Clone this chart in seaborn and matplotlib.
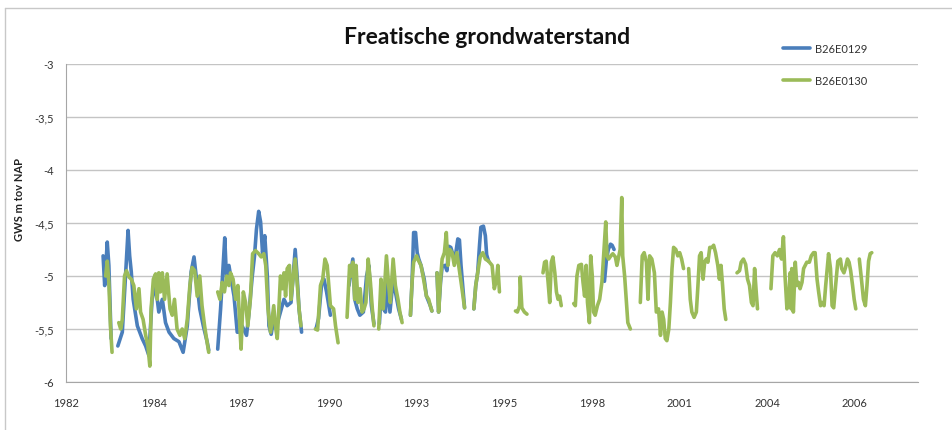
import pandas as pd
import seaborn as sns
import matplotlib.pyplot as plt
from matplotlib.lines import Line2D

nan = float("nan")

# B26E0129 - jaar (decimaal) en GWS in m t.o.v. NAP, nan = geen meting
b_jaar = [1983.32, 1983.37, 1983.45, 1983.50, 1983.57, nan,
          1983.78, 1983.92, 1984.02, 1984.10, 1984.15, 1984.20, 1984.26, 1984.39, 1984.54, 1984.65,
          1984.75, 1984.85, 1984.96, 1985.06, 1985.17, 1985.27, 1985.38, 1985.53, 1985.69, 1985.82,
          1985.95, 1986.07, 1986.16, 1986.26, 1986.34, 1986.45, 1986.57, 1986.62, nan,
          1986.90, 1986.99, 1987.07, 1987.12, 1987.18, 1987.25, 1987.32, 1987.41, 1987.51, 1987.56,
          1987.66, 1987.80, 1987.87, 1987.98, 1988.05, 1988.11, 1988.18, 1988.24, 1988.30, 1988.37,
          1988.45, 1988.50, 1988.57, 1988.65, 1988.76, 1988.86, 1988.97, 1989.07, 1989.19, 1989.25,
          1989.32, 1989.38, 1989.44, 1989.52, nan,
          1989.97, 1990.05, 1990.15, 1990.22, 1990.30, 1990.42, nan,
          1991.00, 1991.12, 1991.18, 1991.26, 1991.34, 1991.45, 1991.55, 1991.62, 1991.70, 1991.78, nan,
          1991.95, 1992.02, 1992.08, 1992.14, 1992.20, 1992.28, 1992.38, 1992.45, 1992.55, 1992.64, nan,
          1992.92, 1992.97, 1993.02, 1993.08, 1993.13, 1993.18, 1993.25, 1993.35, 1993.42, 1993.54, 1993.59, nan,
          1993.75, 1993.80, 1993.86, 1993.91, 1994.00, 1994.06, 1994.12, 1994.18, 1994.25, 1994.32,
          1994.40, 1994.45, 1994.50, 1994.56, 1994.61, nan,
          1994.90, 1994.96, 1995.02, 1995.08, 1995.12, 1995.20, 1995.26, 1995.30, 1995.36, nan,
          1998.98, 1999.04, 1999.10, 1999.17, 1999.22, 1999.28]
b_gws = [-4.81, -5.09, -4.68, -4.90, -5.59, nan,
         -5.66, -5.53, -5.00, -4.57, -4.81, -4.96, -5.22, -5.47, -5.59, -5.66,
         -5.75, -5.22, -5.09, -5.34, -5.22, -5.44, -5.53, -5.59, -5.62, -5.72,
         -5.47, -4.96, -4.82, -5.09, -5.31, -5.47, -5.62, -5.70, nan,
         -5.69, -5.31, -4.90, -4.64, -5.06, -4.90, -5.03, -5.19, -5.53, -5.53,
         -5.47, -5.56, -5.37, -5.00, -4.81, -4.56, -4.39, -4.49, -4.78, -4.62,
         -5.00, -5.47, -5.55, -5.40, -5.45, -5.34, -5.22, -5.28, -5.25, -5.03,
         -4.75, -5.00, -5.31, -5.53, nan,
         -5.50, -5.40, -5.06, -5.03, -5.15, -5.37, nan,
         -5.09, -4.84, -5.22, -5.31, -5.37, -5.34, -5.00, -4.90, -5.28, -5.45, nan,
         -5.45, -5.09, -5.31, -5.34, -5.06, -5.34, -5.03, -5.15, -5.31, -5.41, nan,
         -5.37, -5.06, -4.59, -4.59, -4.78, -4.84, -4.90, -5.03, -5.19, -5.28, -5.33, nan,
         -4.97, -5.34, -5.06, -4.91, -4.90, -4.95, -4.72, -4.73, -4.80, -4.82,
         -4.65, -4.66, -4.90, -5.12, -5.30, nan,
         -5.31, -5.09, -4.97, -4.70, -4.54, -4.53, -4.62, -4.80, -4.86, nan,
         -5.05, -4.85, -4.75, -4.70, -4.71, -4.75]

# B26E0130
g_jaar = [1983.40, 1983.45, 1983.50, 1983.55, 1983.60, nan,
          1983.81, 1983.87, 1983.92, 1983.99, 1984.05, 1984.13, 1984.20, 1984.28, 1984.36, 1984.44,
          1984.49, 1984.57, 1984.65, 1984.72, 1984.78, 1984.82, 1984.89, 1984.96, 1985.01, 1985.06,
          1985.11, 1985.17, 1985.24, 1985.32, 1985.41, 1985.48, 1985.55, 1985.63, 1985.72, 1985.79,
          1985.87, 1985.95, 1986.03, 1986.10, 1986.18, 1986.26, 1986.34, 1986.41, 1986.49, 1986.55,
          1986.62, nan,
          1986.90, 1986.97, 1987.04, 1987.11, 1987.18, 1987.25, 1987.30, 1987.38, 1987.46, 1987.53,
          1987.59, 1987.63, 1987.70, 1987.77, 1987.84, 1987.92, 1987.99, 1988.08, 1988.18, 1988.26,
          1988.34, 1988.40, 1988.47, 1988.55, 1988.65, 1988.70, 1988.76, 1988.81, 1988.86, 1988.92,
          1988.97, 1989.02, 1989.07, 1989.14, 1989.19, 1989.25, 1989.32, 1989.38, 1989.44, 1989.50, nan,
          1989.95, 1990.02, 1990.11, 1990.18, 1990.25, 1990.32, 1990.37, 1990.42, 1990.52, 1990.58, 1990.66, nan,
          1990.94, 1991.02, 1991.07, 1991.12, 1991.18, 1991.22, 1991.28, 1991.35, 1991.41, 1991.47,
          1991.53, 1991.60, 1991.67, 1991.73, 1991.78, nan,
          1991.93, 1992.00, 1992.07, 1992.17, 1992.24, 1992.29, 1992.38, 1992.45, 1992.53, 1992.59, 1992.66, nan,
          1992.92, 1992.97, 1993.02, 1993.11, 1993.18, 1993.25, 1993.33, 1993.42, 1993.49, 1993.54, 1993.59, nan,
          1993.75, 1993.80, 1993.86, 1993.91, 1993.98, 1994.04, 1994.09, 1994.15, 1994.22, 1994.29,
          1994.37, 1994.46, 1994.53, 1994.61, nan,
          1994.90, 1994.96, 1995.02, 1995.10, 1995.18, 1995.26, 1995.36, 1995.47, 1995.54, 1995.61,
          1995.65, 1995.70, nan,
          1996.20, 1996.26, 1996.33, 1996.35, 1996.40, 1996.48, 1996.56, nan,
          1997.06, 1997.11, 1997.16, 1997.22, 1997.27, 1997.32, 1997.37, 1997.43, 1997.48, 1997.53,
          1997.58, 1997.63, nan,
          1998.02, 1998.07, 1998.12, 1998.18, 1998.26, 1998.31, 1998.36, 1998.41, 1998.45, 1998.51,
          1998.55, 1998.60, 1998.64, 1998.69, 1998.76, 1998.83, 1998.90, 1998.96, 1999.02, 1999.06,
          1999.11, 1999.18, 1999.24, 1999.32, 1999.37, 1999.43, 1999.47, 1999.52, 1999.55, 1999.61,
          1999.66, 1999.71, 1999.79, nan,
          2000.10, 2000.16, 2000.22, 2000.29, 2000.34, 2000.39, 2000.46, 2000.54, 2000.60, 2000.67,
          2000.73, 2000.78, 2000.83, 2000.88, 2000.93, 2000.99, 2001.04, 2001.09, 2001.14, 2001.21,
          2001.27, 2001.33, 2001.39, 2001.45, nan,
          2001.61, 2001.66, 2001.71, 2001.78, 2001.85, 2001.90, 2001.95, 2002.00, 2002.06, 2002.11,
          2002.16, 2002.21, 2002.27, 2002.34, 2002.39, 2002.45, 2002.52, 2002.57, 2002.62, 2002.67,
          2002.72, 2002.77, nan,
          2003.12, 2003.20, 2003.25, 2003.32, 2003.39, 2003.45, 2003.51, 2003.57, 2003.62, 2003.67,
          2003.72, 2003.76, nan,
          2004.18, 2004.24, 2004.31, 2004.38, 2004.45, 2004.51, 2004.57, 2004.62, 2004.68, 2004.73,
          2004.78, 2004.81, 2004.83, 2004.88, 2004.94, 2004.99, 2005.04, 2005.09, 2005.15, 2005.20,
          2005.25, 2005.30, 2005.38, 2005.44, 2005.51, 2005.56, 2005.62, 2005.67, 2005.73, 2005.78,
          2005.84, 2005.89, 2005.98, 2006.04, 2006.09, 2006.14, 2006.20, 2006.27, 2006.35, 2006.39,
          2006.46, 2006.51, 2006.57, 2006.62, 2006.67, 2006.73, 2006.78, 2006.83, nan,
          2006.94, 2007.00, 2007.07, 2007.13, 2007.18, 2007.23, 2007.28, 2007.33]
g_gws = [-5.00, -4.86, -5.06, -5.47, -5.72, nan,
         -5.44, -5.50, -5.41, -5.00, -4.95, -5.01, -5.03, -5.09, -5.31, -5.12,
         -5.34, -5.41, -5.56, -5.66, -5.85, -5.31, -5.03, -4.98, -5.22, -4.97,
         -5.15, -4.97, -5.22, -4.98, -5.31, -5.37, -5.22, -5.50, -5.56, -5.50,
         -5.59, -5.41, -5.09, -4.92, -4.95, -5.19, -5.00, -5.28, -5.47, -5.59,
         -5.72, nan,
         -5.15, -5.22, -5.06, -5.15, -5.00, -5.09, -4.97, -5.03, -5.22, -5.09,
         -5.47, -5.69, -5.15, -5.25, -5.47, -5.22, -4.79, -4.76, -4.79, -4.82,
         -4.79, -4.90, -5.31, -5.53, -5.28, -5.47, -5.59, -5.31, -5.00, -5.12,
         -4.97, -5.19, -4.93, -4.90, -5.22, -5.03, -4.84, -5.06, -5.31, -5.47, nan,
         -5.50, -5.51, -5.09, -5.03, -4.84, -4.90, -5.09, -5.28, -5.31, -5.47, -5.63, nan,
         -5.39, -4.90, -5.00, -4.87, -5.22, -4.90, -5.25, -5.12, -5.34, -5.31,
         -5.25, -4.84, -5.06, -5.31, -5.47, nan,
         -5.50, -5.03, -5.31, -4.81, -5.09, -5.25, -4.84, -5.09, -5.22, -5.34, -5.44, nan,
         -5.37, -5.06, -4.87, -4.81, -4.86, -4.90, -5.03, -5.19, -5.22, -5.28, -5.33, nan,
         -4.97, -5.34, -5.03, -4.84, -4.78, -4.59, -4.90, -4.75, -4.78, -4.90,
         -4.78, -4.97, -5.12, -5.30, nan,
         -5.31, -5.09, -4.97, -4.82, -4.78, -4.84, -4.86, -4.90, -5.12, -5.03,
         -4.90, -5.15, nan,
         -5.33, -5.34, -5.28, -5.01, -5.30, -5.34, -5.36, nan,
         -4.97, -4.87, -4.86, -5.06, -5.25, -4.87, -4.82, -4.97, -5.15, -5.22,
         -5.19, -5.28, nan,
         -5.26, -5.28, -5.00, -4.90, -4.89, -5.06, -5.19, -4.90, -5.25, -5.44,
         -4.81, -5.00, -5.34, -5.37, -5.28, -5.22, -5.06, -4.78, -4.49, -4.81,
         -4.84, -4.81, -4.79, -4.82, -4.90, -4.81, -4.75, -4.26, -4.81, -5.00,
         -5.22, -5.44, -5.50, nan,
         -5.25, -4.81, -4.78, -4.87, -5.22, -4.81, -4.84, -4.97, -5.34, -5.31,
         -5.56, -5.34, -5.41, -5.59, -5.61, -5.50, -5.25, -4.93, -4.73, -4.75,
         -4.81, -4.78, -4.84, -4.93, nan,
         -4.93, -5.22, -5.34, -5.39, -5.34, -5.09, -4.81, -4.78, -5.03, -4.87,
         -4.84, -4.87, -4.73, -4.73, -4.71, -4.78, -4.90, -5.03, -4.90, -5.09,
         -5.31, -5.41, nan,
         -4.97, -4.95, -4.87, -4.84, -4.89, -5.03, -5.09, -5.25, -5.28, -4.93,
         -5.15, -5.31, nan,
         -5.12, -4.81, -4.78, -4.81, -4.75, -4.84, -4.63, -5.00, -5.31, -5.25,
         -4.97, -5.31, -4.93, -5.34, -4.87, -5.09, -5.06, -5.12, -5.06, -4.93,
         -4.90, -4.87, -4.87, -4.81, -4.78, -4.78, -5.03, -5.15, -5.28, -5.25,
         -5.28, -5.09, -4.79, -4.93, -5.28, -5.30, -5.09, -4.86, -4.84, -4.93,
         -4.97, -4.92, -4.84, -4.87, -4.95, -5.09, -5.22, -5.31, nan,
         -4.84, -5.01, -5.22, -5.28, -5.09, -4.86, -4.79, -4.78]

reeksen = ["B26E0129", "B26E0130"]
kleuren = ["#4a7ebb", "#9bbb59"]
y_ticks = [-6, -5.5, -5, -4.5, -4, -3.5, -3]
y_labels = ["-6", "-5,5", "-5", "-4,5", "-4", "-3,5", "-3"]


def to_frame(jaar, gws, naam):
    d = pd.DataFrame({"jaar": jaar, "gws": gws})
    d["deel"] = d["gws"].isna().cumsum()
    d = d.dropna()
    d["reeks"] = naam
    return d


sns.set_style("white")
plt.rcParams["font.family"] = ["Lato", "DejaVu Sans"]

fig = plt.figure(figsize=(9.52, 4.31), dpi=100)
ax = fig.add_axes([66 / 952, 1 - 383 / 431, (918 - 66) / 952, (383 - 65) / 431])

for (jaar, gws), naam, kleur in zip([(b_jaar, b_gws), (g_jaar, g_gws)], reeksen, kleuren):
    sns.lineplot(data=to_frame(jaar, gws, naam), x="jaar", y="gws", units="deel",
                 estimator=None, color=kleur, linewidth=2.6, legend=False, ax=ax)

# excel datum-as: elke 1000 dagen een streepje
start = pd.Timestamp("1982-03-01")
tick_data = [start + pd.Timedelta(days=1000 * k) for k in range(10)]
x_ticks = [t.year + (t.dayofyear - 1) / 365.25 for t in tick_data]
x_labels = [str(t.year) for t in tick_data]

ax.set_xlim(x_ticks[0], x_ticks[0] + 9.72 * 1000 / 365.25)
ax.set_ylim(-6, -3)
ax.set_xticks(x_ticks, x_labels)
ax.set_yticks(y_ticks, y_labels)
ax.set_xlabel("")
ax.set_ylabel("")
ax.yaxis.grid(True, color="#c4c4c4", linewidth=1)
ax.set_axisbelow(True)
for s in ["top", "right"]:
    ax.spines[s].set_visible(False)
for s in ["left", "bottom"]:
    ax.spines[s].set_color("#a6a6a6")
ax.tick_params(axis="both", length=5, width=1, color="#a6a6a6", labelsize=8,
               labelcolor="#333333", direction="out")
ax.tick_params(axis="x", pad=6)

fig.text(487 / 952, 1 - 38 / 431, "Freatische grondwaterstand", ha="center", va="center",
         fontsize=16.5, fontweight="bold", color="#111111")
fig.text(20 / 952, 1 - 200 / 431, "GWS m tov NAP", rotation=90, ha="center", va="center",
         fontsize=8, fontweight="bold", color="#222222")

handles = [Line2D([], [], color=k, linewidth=2.6) for k in kleuren]
fig.legend(handles, reeksen, loc="upper left", bbox_to_anchor=(773 / 952, 1 - 34 / 431),
           frameon=False, fontsize=8, handlelength=2.4, labelspacing=1.9, handletextpad=0.5,
           labelcolor="#333333")

# rand van het grafiekgebied
fig.add_artist(Line2D([5 / 952, 1], [1 - 9 / 431, 1 - 9 / 431], color="#c8c8c8", linewidth=1))
fig.add_artist(Line2D([5 / 952, 5 / 952], [0, 1 - 9 / 431], color="#c8c8c8", linewidth=1))

fig.savefig("out.png", dpi=100)
